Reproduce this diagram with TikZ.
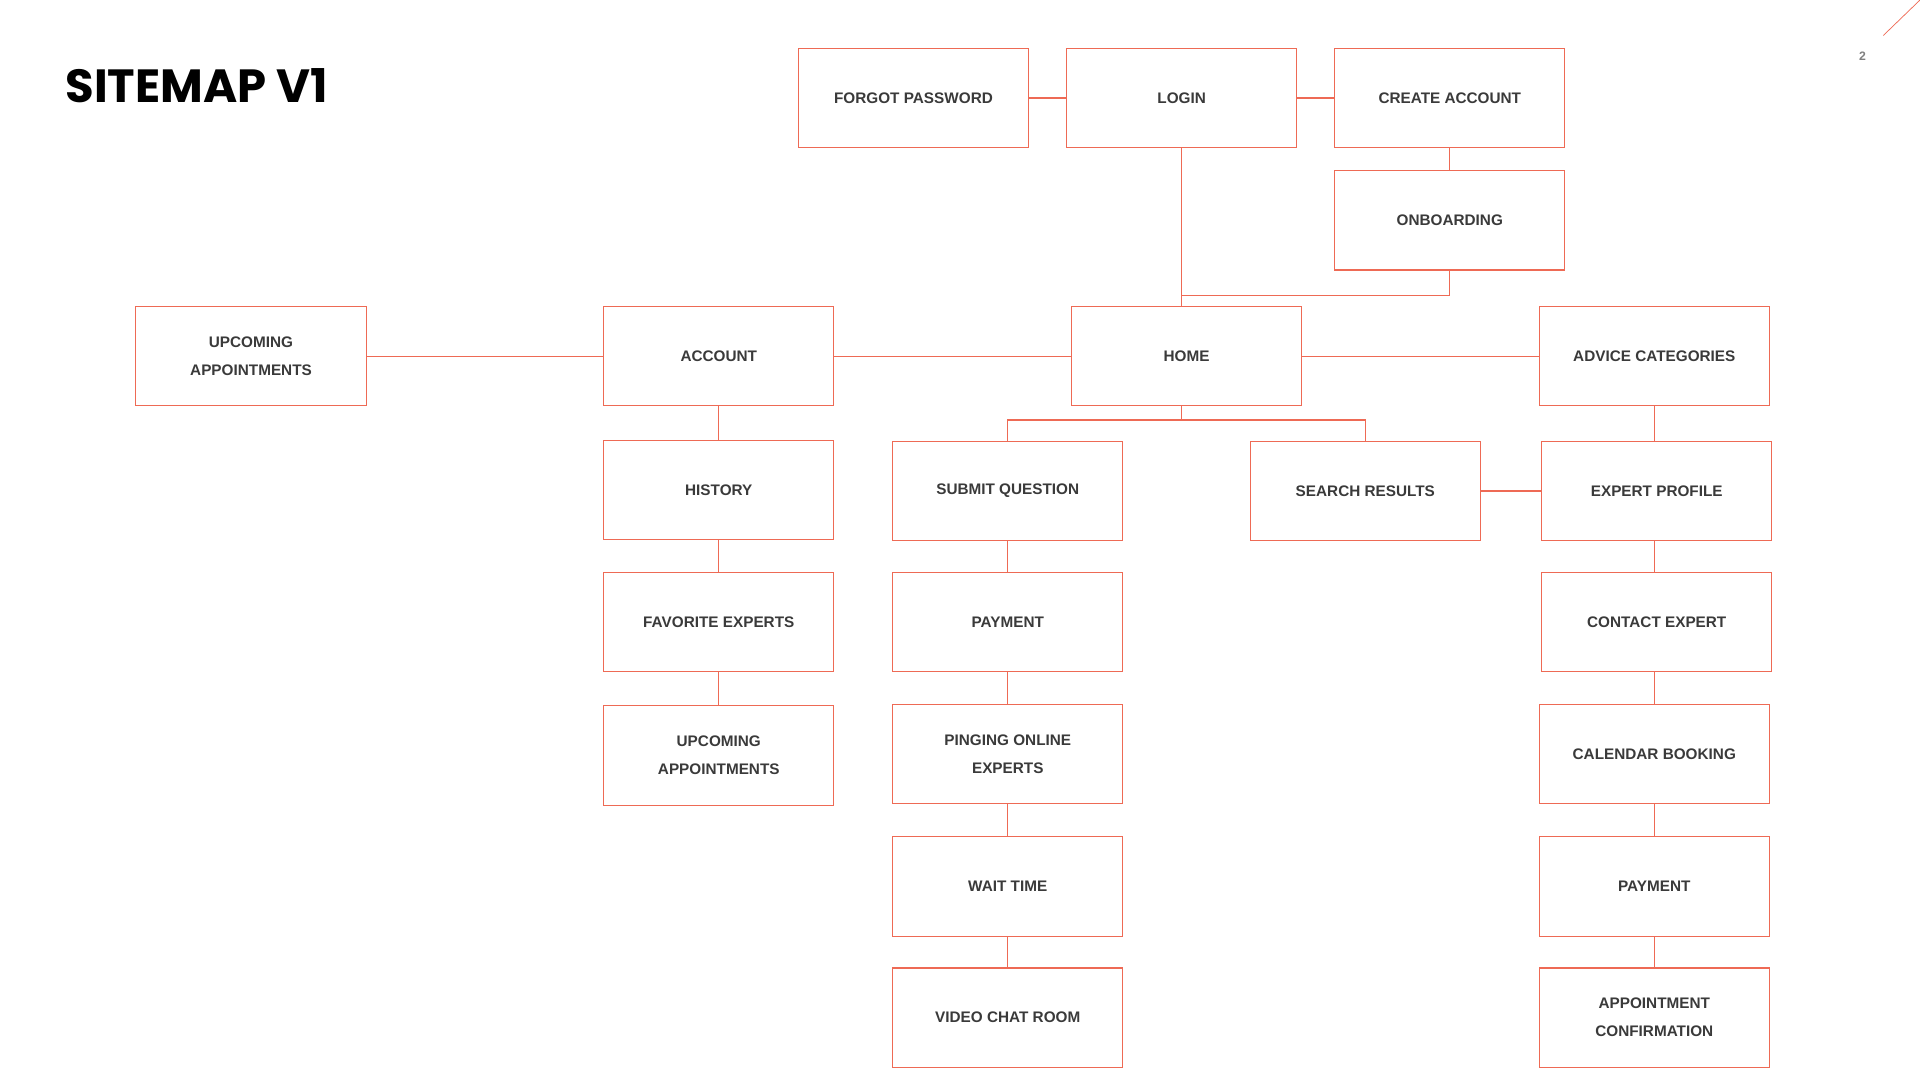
\documentclass[tikz,border=0pt]{standalone}
\usepackage{fontspec}
\setmainfont{Liberation Sans}
\newfontfamily\titlefont{Poppins}
\definecolor{boxc}{HTML}{EE6A55}
\definecolor{txt}{HTML}{3A3A3A}
\begin{document}
\begin{tikzpicture}[x=1pt,y=-1pt,
  bx/.style={draw=boxc,line width=0.9pt,minimum width=188pt,minimum height=81pt,align=center,font=\fontsize{12.5}{23}\selectfont\bfseries,text=txt,inner sep=0pt},
  ln/.style={draw=boxc,line width=0.9pt}]
\useasboundingbox (0,0) rectangle (1568,882);
\node[anchor=west,font=\titlefont\fontsize{38}{40}\selectfont\bfseries,text=black] (title) at (50,70) {SITEMAP V1};
\node[font=\fontsize{10}{12}\selectfont\bfseries,text=gray] (pg) at (1521,46) {2};
\coordinate (d1) at (1538,29); \coordinate (d2) at (1568,0);
\draw[ln,line width=0.6pt] (d1)--(d2);
\node[bx] (fp) at (746,80) {FORGOT PASSWORD};
\node[bx] (login) at (965,80) {LOGIN};
\node[bx] (ca) at (1184,80) {CREATE ACCOUNT};
\node[bx] (onb) at (1184,180) {ONBOARDING};
\node[bx] (ua1) at (205,291) {UPCOMING\\APPOINTMENTS};
\node[bx] (acc) at (587,291) {ACCOUNT};
\node[bx] (home) at (969,291) {HOME};
\node[bx] (adv) at (1351,291) {ADVICE CATEGORIES};
\node[bx] (hist) at (587,400) {HISTORY};
\node[bx] (sq) at (823,401) {SUBMIT QUESTION};
\node[bx] (sr) at (1115,401) {SEARCH RESULTS};
\node[bx] (ep) at (1353,401) {EXPERT PROFILE};
\node[bx] (fav) at (587,508) {FAVORITE EXPERTS};
\node[bx] (pay1) at (823,508) {PAYMENT};
\node[bx] (ce) at (1353,508) {CONTACT EXPERT};
\node[bx] (ua2) at (587,617) {UPCOMING\\APPOINTMENTS};
\node[bx] (ping) at (823,616) {PINGING ONLINE\\EXPERTS};
\node[bx] (cal) at (1351,616) {CALENDAR BOOKING};
\node[bx] (wait) at (823,724) {WAIT TIME};
\node[bx] (pay2) at (1351,724) {PAYMENT};
\node[bx] (vc) at (823,831) {VIDEO CHAT ROOM};
\node[bx] (conf) at (1351,831) {APPOINTMENT\\CONFIRMATION};
\coordinate (j1) at (965,241);
\coordinate (j2) at (965,343);
\draw[ln] (fp)--(login); \draw[ln] (login)--(ca); \draw[ln] (ca)--(onb);
\draw[ln] (login.south) -- (j1) -- (j1 |- home.north);
\draw[ln] (onb.south) |- (j1);
\draw[ln] (ua1)--(acc); \draw[ln] (acc)--(home); \draw[ln] (home)--(adv);
\draw[ln] (j1 |- home.south) -- (j2);
\draw[ln] (sq.north) |- (j2) -| (sr.north);
\draw[ln] (sr)--(ep);
\draw[ln] (acc)--(hist); \draw[ln] (hist)--(fav); \draw[ln] (fav)--(ua2);
\draw[ln] (sq)--(pay1); \draw[ln] (pay1)--(ping); \draw[ln] (ping)--(wait); \draw[ln] (wait)--(vc);
\draw[ln] (adv.south) -- (adv.south |- ep.north);
\draw[ln] (ep.south -| adv.south) -- (ce.north -| adv.south);
\draw[ln] (ce.south -| adv.south) -- (cal.north);
\draw[ln] (cal)--(pay2); \draw[ln] (pay2)--(conf);
\end{tikzpicture}
\end{document}
